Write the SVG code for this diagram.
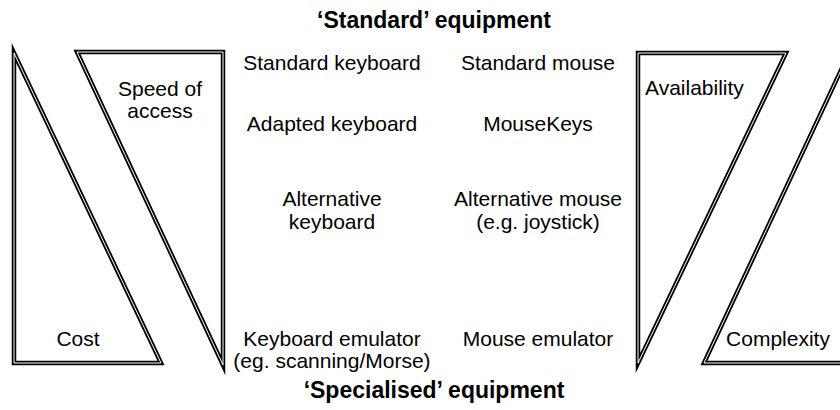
<svg xmlns="http://www.w3.org/2000/svg" width="840" height="410" viewBox="0 0 840 410">
<style>
text{font-family:"Liberation Sans",Arial,sans-serif;font-size:21px;fill:#000}
.t{font-weight:bold;font-size:23px}
.c{text-anchor:middle}
.o{fill:none;stroke:#000;stroke-width:4.5;stroke-linejoin:miter;stroke-miterlimit:12}
.i{fill:none;stroke:#fff;stroke-width:1;stroke-linejoin:miter;stroke-miterlimit:12}
</style>
<defs>
<polygon id="p1" points="14,53 14,363 161,363"/>
<polygon id="p2" points="77,52 223,52 223,365"/>
<polygon id="p3" points="638,53 786,53 638,363"/>
<polygon id="p4" points="849,53 704,363 860,363 860,53"/>
</defs>
<rect width="840" height="410" fill="#fff"/>
<g id="title-standard"><text class="t c" x="434" y="28">‘Standard’ equipment</text></g>
<g id="title-specialised"><text class="t c" x="434" y="398">‘Specialised’ equipment</text></g>
<g id="cost"><use href="#p1" class="o"/><use href="#p1" class="i"/><text class="c" x="78" y="346">Cost</text></g>
<g id="speed"><use href="#p2" class="o"/><use href="#p2" class="i"/><text class="c" x="160" y="96">Speed of</text><text class="c" x="160" y="118">access</text></g>
<g id="availability"><use href="#p3" class="o"/><use href="#p3" class="i"/><text x="645" y="95">Availability</text></g>
<g id="complexity"><use href="#p4" class="o"/><use href="#p4" class="i"/><text class="c" x="778" y="346">Complexity</text></g>
<g id="std-keyboard"><text class="c" x="332" y="70">Standard keyboard</text></g>
<g id="std-mouse"><text class="c" x="538" y="70">Standard mouse</text></g>
<g id="adapted-keyboard"><text class="c" x="332" y="131">Adapted keyboard</text></g>
<g id="mousekeys"><text class="c" x="538" y="131">MouseKeys</text></g>
<g id="alt-keyboard"><text class="c" x="332" y="206">Alternative</text><text class="c" x="332" y="229">keyboard</text></g>
<g id="alt-mouse"><text class="c" x="538" y="206">Alternative mouse</text><text class="c" x="538" y="229">(e.g. joystick)</text></g>
<g id="kbd-emulator"><text class="c" x="332" y="346">Keyboard emulator</text><text class="c" x="332" y="368">(eg. scanning/Morse)</text></g>
<g id="mouse-emulator"><text class="c" x="538" y="346">Mouse emulator</text></g>
</svg>
